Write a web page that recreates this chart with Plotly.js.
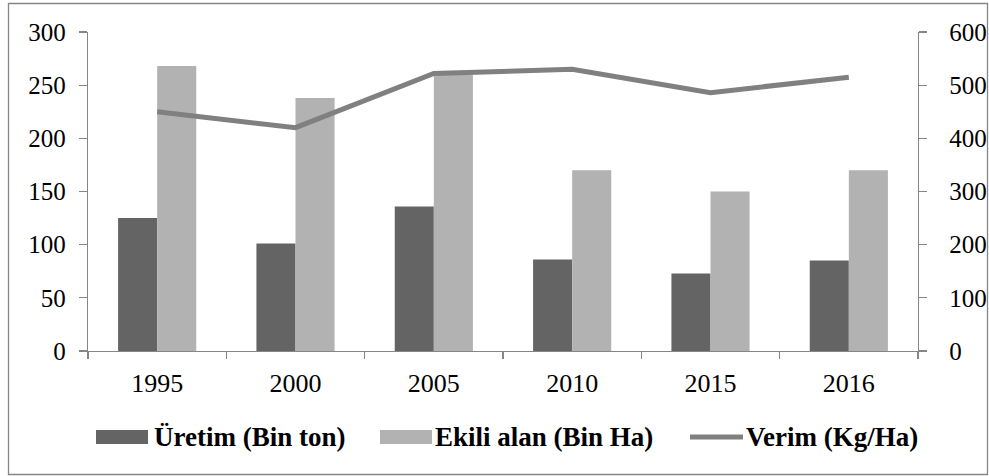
<!DOCTYPE html>
<html>
<head>
<meta charset="utf-8">
<script src="https://cdn.plot.ly/plotly-3.0.1.min.js"></script>
<style>html,body{margin:0;padding:0;background:#fff;}#chart{width:989px;height:476px;}</style>
</head>
<body>
<div id="chart"></div>
<script>
const years = ["1995", "2000", "2005", "2010", "2015", "2016"];
const uretim = [125, 101, 136, 86, 73, 85];
const ekiliAlan = [268, 238, 260, 170, 150, 170];
const verim = [450, 420, 522, 530, 486, 515];
const leftTicks = [0, 50, 100, 150, 200, 250, 300];
const rightTicks = [0, 100, 200, 300, 400, 500, 600];
const seriesNames = ["Üretim (Bin ton)", "Ekili alan (Bin Ha)", "Verim (Kg/Ha)"];
const seriesColors = ["#646464", "#b2b2b2", "#808080"];

const W = 989, H = 476;
const mL = 88, mR = 71, mT = 32, mB = 125;
const pw = W - mL - mR, ph = H - mT - mB;
const px = v => (v - mL) / pw;
const py = v => (H - mB - v) / ph;

const FAM = "Liberation Serif, Times New Roman, DejaVu Serif, serif";
const tickFont = {family: FAM, size: 25, color: "#000"};
const axisColor = "#868686";

const traces = [
  {type: "bar", name: seriesNames[0], x: years, y: uretim,
   marker: {color: seriesColors[0]}, yaxis: "y", showlegend: false},
  {type: "bar", name: seriesNames[1], x: years, y: ekiliAlan,
   marker: {color: seriesColors[1]}, yaxis: "y", showlegend: false},
  {type: "scatter", mode: "lines", name: seriesNames[2], x: years, y: verim,
   line: {color: seriesColors[2], width: 5}, yaxis: "y2", showlegend: false}
];

const legendY = 437;
const legendItems = [
  {sw0: 96, sw1: 148, tx: 152, kind: "box"},
  {sw0: 380, sw1: 432, tx: 433, kind: "box"},
  {sw0: 690, sw1: 743, tx: 744, kind: "line"}
];
const shapes = [{type: "rect", xref: "paper", yref: "paper",
  x0: px(8.5), x1: px(987.5), y0: py(3.5), y1: py(474.5),
  line: {color: axisColor, width: 1.3}, fillcolor: "rgba(0,0,0,0)", layer: "below"}];
const annotations = [];
legendItems.forEach((it, i) => {
  if (it.kind === "box") {
    shapes.push({type: "rect", xref: "paper", yref: "paper",
      x0: px(it.sw0), x1: px(it.sw1), y0: py(legendY - 7), y1: py(legendY + 7),
      line: {width: 0}, fillcolor: seriesColors[i]});
  } else {
    shapes.push({type: "line", xref: "paper", yref: "paper",
      x0: px(it.sw0), x1: px(it.sw1), y0: py(legendY), y1: py(legendY),
      line: {width: 5, color: seriesColors[i]}});
  }
  annotations.push({xref: "paper", yref: "paper", x: px(it.tx), y: py(legendY),
    xanchor: "left", yanchor: "middle", showarrow: false,
    text: seriesNames[i],
    font: {family: FAM, size: 27, color: "#000", weight: "bold"}});
});

const layout = {
  width: W, height: H,
  margin: {l: mL, r: mR, t: mT, b: mB},
  paper_bgcolor: "#fff", plot_bgcolor: "#fff",
  font: tickFont,
  barmode: "group", bargap: 0.435, bargroupgap: 0,
  showlegend: false,
  xaxis: {type: "category", showline: true, linecolor: axisColor, linewidth: 1.3,
          ticks: "outside", tickson: "boundaries", ticklen: 7, tickcolor: axisColor, tickwidth: 1.3,
          showgrid: false, zeroline: false, ticklabelstandoff: 8,
          tickfont: {family: FAM, size: 26, color: "#000"}},
  yaxis: {range: [0, 300], tickvals: leftTicks, ticktext: leftTicks.map(String),
          showline: true, linecolor: axisColor, linewidth: 1.3,
          ticks: "outside", ticklen: 8, tickcolor: axisColor, tickwidth: 1.3,
          showgrid: false, zeroline: false, ticklabelstandoff: 8, tickfont: tickFont},
  yaxis2: {range: [0, 600], tickvals: rightTicks, ticktext: rightTicks.map(String),
           overlaying: "y", side: "right", showline: true, linecolor: axisColor, linewidth: 1.3,
           ticks: "outside", ticklen: 8, tickcolor: axisColor, tickwidth: 1.3,
           showgrid: false, zeroline: false, ticklabelstandoff: 17, tickfont: tickFont},
  shapes: shapes,
  annotations: annotations
};

Plotly.newPlot("chart", traces, layout, {displayModeBar: false, staticPlot: true});
</script>
</body>
</html>
